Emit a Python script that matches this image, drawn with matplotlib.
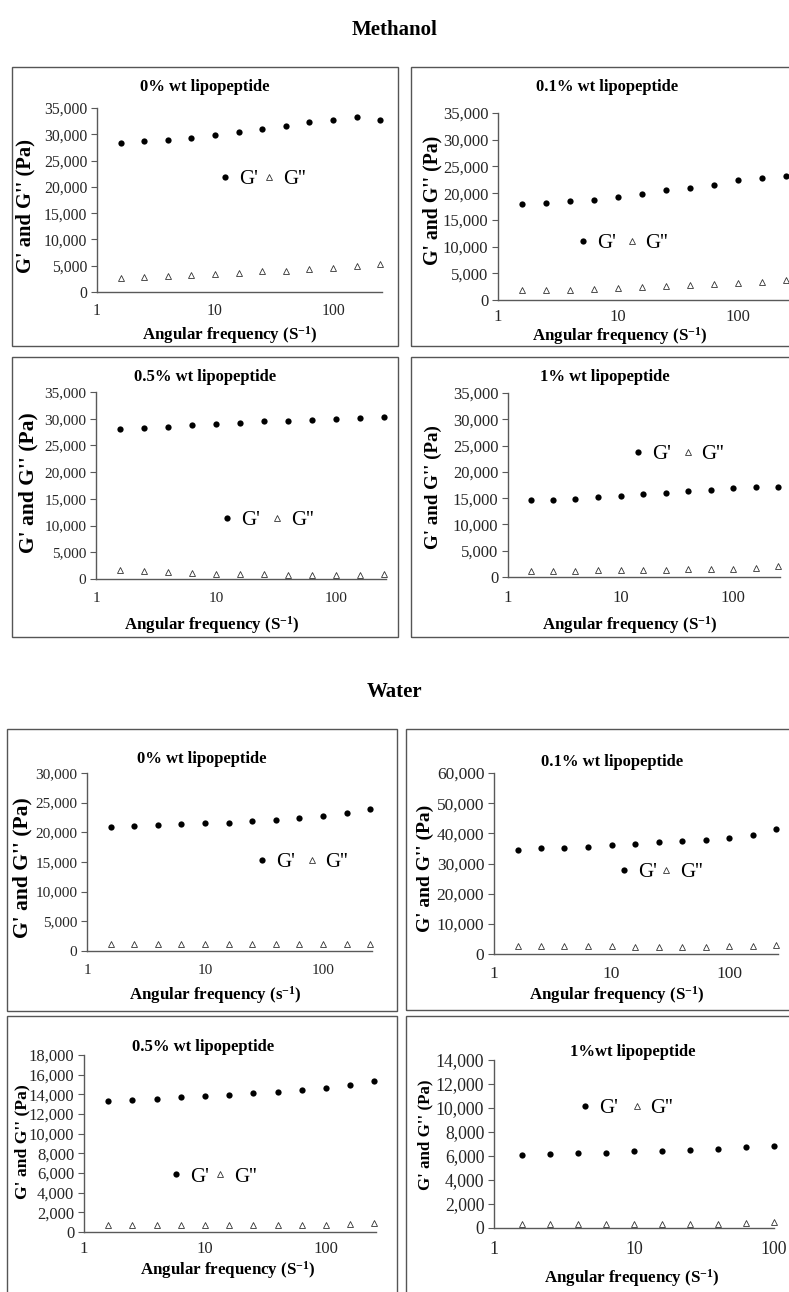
import math
import matplotlib
matplotlib.use("Agg")
import matplotlib.pyplot as plt
from matplotlib.patches import Rectangle
from matplotlib.lines import Line2D
from matplotlib.ticker import FixedLocator, FuncFormatter, NullLocator

plt.rcParams['font.family'] = ['Liberation Serif', 'DejaVu Serif']
plt.rcParams['mathtext.fontset'] = 'custom'
plt.rcParams['mathtext.rm'] = 'Liberation Serif'
plt.rcParams['mathtext.bf'] = 'Liberation Serif:bold'

# ---------------- data ----------------
freq12 = [1.585, 2.512, 3.981, 6.310, 10.0, 15.85, 25.12, 39.81, 63.10, 100.0, 158.5, 251.2]
freq10 = [1.585, 2.512, 3.981, 6.310, 10.0, 15.85, 25.12, 39.81, 63.10, 100.0]

# Methanol
m0_gp = [28400, 28700, 29000, 29300, 29900, 30400, 31000, 31600, 32400, 32700, 33200, 32700]
m0_gpp = [2700, 2900, 3000, 3200, 3400, 3700, 3900, 4000, 4300, 4600, 4900, 5400]
m01_gp = [18000, 18200, 18500, 18800, 19300, 19900, 20500, 20900, 21600, 22400, 22900, 23300]
m01_gpp = [1850, 1950, 1950, 2050, 2200, 2350, 2550, 2800, 2950, 3150, 3450, 3650]
m05_gp = [28000, 28200, 28500, 28800, 29000, 29200, 29500, 29600, 29800, 30000, 30200, 30300]
m05_gpp = [1600, 1450, 1300, 1100, 950, 950, 950, 800, 800, 800, 800, 850]
m1_gp = [14700, 14700, 14900, 15200, 15500, 15800, 16000, 16300, 16600, 17000, 17100, 17100]
m1_gpp = [1200, 1200, 1200, 1350, 1350, 1350, 1350, 1550, 1550, 1550, 1700, 2050]

# Water
w0_gp = [20900, 21100, 21300, 21400, 21600, 21600, 21900, 22100, 22400, 22700, 23200, 23900]
w0_gpp = [1250, 1150, 1150, 1150, 1150, 1150, 1150, 1150, 1150, 1150, 1150, 1250]
w01_gp = [34500, 35000, 35300, 35500, 36100, 36500, 37000, 37400, 37900, 38500, 39400, 41300]
w01_gpp = [2500, 2600, 2600, 2600, 2600, 2300, 2300, 2300, 2300, 2600, 2600, 3000]
w05_gp = [13300, 13450, 13550, 13700, 13800, 13950, 14100, 14200, 14400, 14650, 14900, 15400]
w05_gpp = [700, 700, 700, 700, 700, 700, 700, 700, 700, 700, 800, 900]
w1_gp = [6100, 6180, 6240, 6290, 6380, 6380, 6520, 6570, 6740, 6850]
w1_gpp = [370, 370, 370, 370, 370, 370, 370, 370, 440, 500]

titles = ["0% wt lipopeptide", "0.1% wt lipopeptide", "0.5% wt lipopeptide", "1% wt lipopeptide",
          "0% wt lipopeptide", "0.1% wt lipopeptide", "0.5% wt lipopeptide", "1%wt lipopeptide"]
xlabels = [r"Angular frequency ($\mathbf{S^{-1}}$)"] * 4 + \
          [r"Angular frequency ($\mathbf{s^{-1}}$)"] + [r"Angular frequency ($\mathbf{S^{-1}}$)"] * 3
ylabel = "G' and G'' (Pa)"
xtick_vals = [1, 10, 100]
legend_labels = ["G'", "G''"]

series = [
    (freq12, m0_gp, m0_gpp), (freq12, m01_gp, m01_gpp),
    (freq12, m05_gp, m05_gpp), (freq12, m1_gp, m1_gpp),
    (freq12, w0_gp, w0_gpp), (freq12, w01_gp, w01_gpp),
    (freq12, w05_gp, w05_gpp), (freq10, w1_gp, w1_gpp),
]

# ---------------- layout (pixels) ----------------
W, H = 789, 1292
# axes: x of "1", px per decade, y pixel of 0, y pixel of ymax, xmax, ymax, ystep, tick fontsize
axes_cfg = [
    (97, 118, 292, 108, 260, 35000, 5000, 11.3),
    (498, 120, 300, 113, 260, 35000, 5000, 12.0),
    (96, 120, 579, 392, 260, 35000, 5000, 11.0),
    (508, 112.5, 577, 393, 260, 35000, 5000, 12.0),
    (87, 118, 951, 773, 260, 30000, 5000, 11.0),
    (494, 117.5, 954, 773, 260, 60000, 10000, 12.5),
    (84, 121, 1232, 1055, 260, 18000, 2000, 12.0),
    (494, 140, 1228, 1060, 100, 14000, 2000, 12.8),
]
xtick_pad = [8, 6.5, 9, 9, 9, 9, 6.5, 9]
ylabel_fs = [14.8, 14.2, 15.5, 13.7, 15.5, 14.0, 12.6, 12.2]
# boxes: left, top, right, bottom
boxes = [
    (12, 67, 398, 346), (411, 67, 800, 346),
    (12, 357, 398, 637), (411, 357, 800, 637),
    (7, 729, 397, 1011), (406, 729, 800, 1010),
    (7, 1016, 397, 1300), (406, 1016, 800, 1300),
]
title_pos = [(205, 87), (607, 87), (205, 377), (605, 377),
             (202, 759), (612, 762), (203, 1047), (633, 1052)]
xlabel_pos = [(230, 335), (620, 336), (212, 625), (630, 625),
              (215, 995), (617, 995), (228, 1270), (632, 1278)]
ylabel_pos = [(25, 206), (432, 200), (28, 483), (433, 487),
              (22, 868), (425, 868), (22, 1142), (425, 1135)]
legend_pos = [(225, 178), (583, 242), (227, 519), (638, 453),
              (262, 861), (624, 871), (176, 1176), (585, 1107)]
legend_gap = [0.16, 0.36, 0.45, 0.41, 0.42, 0.06, 0.16, 0.5]

fig = plt.figure(figsize=(W / 100, H / 100), dpi=100)


def fx(p):
    return p / W


def fy(p):
    return 1 - p / H


for (l, t, r, b) in boxes:
    fig.patches.append(Rectangle((fx(l), fy(b)), fx(r) - fx(l), fy(t) - fy(b),
                                 transform=fig.transFigure, fill=False,
                                 edgecolor='#555555', linewidth=1.0))

fig.text(fx(395), fy(30), "Methanol", ha='center', va='center', fontsize=15, fontweight='bold')
fig.text(fx(395), fy(692), "Water", ha='center', va='center', fontsize=15, fontweight='bold')

for i, (x, gp, gpp) in enumerate(series):
    x1, dec, y0, y1, xmax, ymax, ystep, tfs = axes_cfg[i]
    xr = x1 + dec * math.log10(xmax)
    ax = fig.add_axes([fx(x1), fy(y0), fx(xr) - fx(x1), fy(y1) - fy(y0)])
    ax.set_xscale('log')
    ax.set_xlim(1, xmax)
    ax.set_ylim(0, ymax)
    ax.patch.set_alpha(0)
    for s in ['top', 'right']:
        ax.spines[s].set_visible(False)
    for s in ['left', 'bottom']:
        ax.spines[s].set_color('#595959')
        ax.spines[s].set_linewidth(1.0)
    ax.plot(x, gp, linestyle='none', marker='o', markersize=4.5, color='black',
            markeredgewidth=0, clip_on=False)
    ax.plot(x, gpp, linestyle='none', marker='^', markersize=4.6, markerfacecolor='none',
            markeredgecolor='#333333', markeredgewidth=0.6, clip_on=False)
    ax.xaxis.set_major_locator(FixedLocator(xtick_vals))
    ax.xaxis.set_minor_locator(NullLocator())
    ax.xaxis.set_major_formatter(FuncFormatter(lambda v, p: f"{v:g}"))
    ax.yaxis.set_major_locator(FixedLocator(list(range(0, ymax + 1, ystep))))
    ax.yaxis.set_major_formatter(FuncFormatter(lambda v, p: f"{v:,.0f}"))
    ax.tick_params(axis='y', direction='out', length=4, width=0.8, color='#595959',
                   pad=3, labelsize=tfs, labelcolor='#262626')
    ax.tick_params(axis='x', direction='out', length=0, pad=xtick_pad[i],
                   labelsize=tfs, labelcolor='#262626')
    ax.set_xlabel(xlabels[i], fontsize=12.2, fontweight='bold', va='center')
    ax.xaxis.set_label_coords(fx(xlabel_pos[i][0]), fy(xlabel_pos[i][1]), transform=fig.transFigure)
    ax.set_ylabel(ylabel, fontsize=ylabel_fs[i], fontweight='bold', va='center')
    ax.yaxis.set_label_coords(fx(ylabel_pos[i][0]), fy(ylabel_pos[i][1]), transform=fig.transFigure)
    fig.text(fx(title_pos[i][0]), fy(title_pos[i][1]), titles[i], ha='center', va='center',
             fontsize=12, fontweight='bold')
    handles = [Line2D([], [], linestyle='none', marker='o', markersize=4.5, color='black',
                      markeredgewidth=0),
               Line2D([], [], linestyle='none', marker='^', markersize=4.2, markerfacecolor='none',
                      markeredgecolor='#333333', markeredgewidth=0.6)]
    lx, ly = legend_pos[i]
    ax.legend(handles, legend_labels, ncol=2, loc='center left', frameon=False,
              bbox_to_anchor=(fx(lx - 8), fy(ly + 1)), bbox_transform=fig.transFigure,
              borderpad=0, borderaxespad=0, handlelength=0.8, handletextpad=0.25,
              columnspacing=legend_gap[i], fontsize=15)

fig.savefig("out.png", dpi=100)
